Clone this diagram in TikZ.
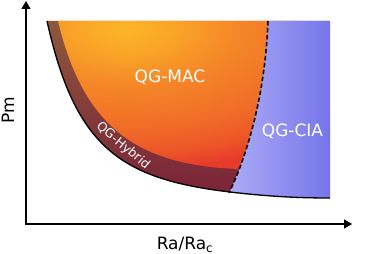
\documentclass[tikz,border=0pt]{standalone}
\usepackage{fontspec}
\setmainfont{DejaVu Sans}
\usepackage{tikz}
\usetikzlibrary{arrows.meta}
\definecolor{macA}{RGB}{252,182,40}
\definecolor{macB}{RGB}{250,165,40}
\definecolor{macC}{RGB}{245,135,40}
\definecolor{macD}{RGB}{241,110,40}
\definecolor{macE}{RGB}{237,85,40}
\definecolor{macF}{RGB}{232,60,42}
\definecolor{bandtop}{RGB}{142,90,60}
\definecolor{bandbot}{RGB}{122,32,56}
\definecolor{ciaL}{RGB}{172,172,246}
\definecolor{ciaR}{RGB}{112,112,234}
\pgfdeclareradialshading{macshade}{\pgfpointorigin}{color(0bp)=(macA); color(3bp)=(macB); color(7bp)=(macC); color(12bp)=(macD); color(15.5bp)=(macE); color(17.5bp)=(macF); color(50bp)=(macF)}

\begin{document}
\begin{tikzpicture}[x=1pt,y=1pt,>={Triangle[length=8pt,width=9pt]},
    lbl/.style={text=white,font=\fontsize{17}{20}\selectfont,anchor=base},
    axlbl/.style={font=\fontsize{17}{20}\selectfont,anchor=base}]
    \useasboundingbox (0,0) rectangle (365,254);
    \begin{scope}
      \clip (47,233) .. controls (75,107) and (120,75) .. (230,62) .. controls (270,57.3) and (300,56) .. (330,56) -- (330,233) -- cycle;
      \shade[top color=bandtop, bottom color=bandbot] (40,50) rectangle (340,240);
      \begin{scope}
        \clip (58,233) .. controls (82,134) and (130,88) .. (240,85) -- (300,85) -- (300,240) -- (58,240) -- cycle;
        \shade[shading=macshade] (125,225) ellipse (400pt and 200pt);
      \end{scope}
      \shade[left color=ciaL, right color=ciaR] (268,240) -- (268,233) .. controls (265,154) and (245,94) .. (229,61) -- (229,40) -- (340,40) -- (340,240) -- cycle;
    \end{scope}
    \draw[line width=1.3pt] (47,233) .. controls (75,107) and (120,75) .. (230,62) .. controls (270,57.3) and (300,56) .. (330,56);
    \draw[line width=1.5pt, dash pattern=on 4.5pt off 2.5pt] (268,233) .. controls (265,154) and (245,94) .. (229,61);
    \coordinate (origin) at (26,30);
    \coordinate (xtip) at (352,30);
    \coordinate (ytip) at (26,253);
    \draw[<->, line width=1.2pt] (ytip) -- (origin) -- (xtip);
    \node[lbl] (mac) at (170,171) {QG-MAC};
    \node[lbl] (cia) at (292.5,117.5) {QG-CIA};
    \node[text=white, font=\fontsize{12.5}{15}\selectfont, rotate=-40] (hybrid) at (123,108) {QG-Hybrid};
    \node[axlbl] (xlab) at (185,4) {Ra/Ra\textsubscript{c}};
    \node[axlbl, rotate=90] (ylab) at (14,144) {Pm};
  \end{tikzpicture}
\end{document}
